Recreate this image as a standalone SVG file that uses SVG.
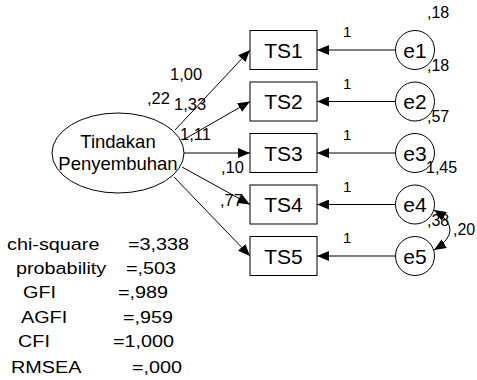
<svg xmlns="http://www.w3.org/2000/svg" width="477" height="380" viewBox="0 0 477 380">
<defs>
<marker id="ah" markerUnits="userSpaceOnUse" markerWidth="12" markerHeight="10" refX="12" refY="5" orient="auto-start-reverse" viewBox="0 0 12 10">
<path d="M0,0 L12,5 L0,10 z" fill="#000"/>
</marker>
<style>
text{font-family:"Liberation Sans",Arial,sans-serif;fill:#000}
.box{fill:#fff;stroke:#000;stroke-width:1}
.circ{fill:#fff;stroke:#000;stroke-width:1}
.big{font-size:21px;text-anchor:middle}
.lat{font-size:18.5px;text-anchor:middle}
.coef{font-size:16.5px}
.one{font-size:15px}
.var{font-size:16px}
.stat{font-size:16.5px}
.con line,.con path{stroke:#000;stroke-width:1;fill:none;marker-end:url(#ah)}
</style>
</defs>
<rect width="477" height="380" fill="#fff"/>
<g class="con" id="connectors">
<line x1="175" y1="130" x2="250" y2="50"/>
<line x1="183" y1="140" x2="250" y2="101.5"/>
<line x1="184" y1="153" x2="250" y2="153"/>
<line x1="182" y1="167" x2="250" y2="204.5"/>
<line x1="174" y1="177" x2="250" y2="256"/>
<line x1="395.5" y1="50" x2="317" y2="50"/>
<line x1="395.5" y1="101.5" x2="317" y2="101.5"/>
<line x1="395.5" y1="153" x2="317" y2="153"/>
<line x1="395.5" y1="204.5" x2="317" y2="204.5"/>
<line x1="395.5" y1="256" x2="317" y2="256"/>
<path d="M434,210 Q466,230 434,250" style="marker-start:url(#ah)"/>
</g>
<g id="latent">
<ellipse cx="118" cy="153" rx="66" ry="40" class="circ"/>
<text class="lat" x="118" y="148">Tindakan</text>
<text class="lat" x="118" y="170">Penyembuhan</text>
</g>
<g id="TS1"><rect class="box" x="250" y="30.5" width="67" height="39"/><text class="big" x="283.5" y="57.5">TS1</text></g>
<g id="TS2"><rect class="box" x="250" y="82" width="67" height="39"/><text class="big" x="283.5" y="109">TS2</text></g>
<g id="TS3"><rect class="box" x="250" y="133.5" width="67" height="39"/><text class="big" x="283.5" y="160.5">TS3</text></g>
<g id="TS4"><rect class="box" x="250" y="185" width="67" height="39"/><text class="big" x="283.5" y="212">TS4</text></g>
<g id="TS5"><rect class="box" x="250" y="236.5" width="67" height="39"/><text class="big" x="283.5" y="263.5">TS5</text></g>
<g id="e1"><circle class="circ" cx="415" cy="50" r="19.5"/><text class="big" x="415" y="57.5">e1</text></g>
<g id="e2"><circle class="circ" cx="415" cy="101.5" r="19.5"/><text class="big" x="415" y="109">e2</text></g>
<g id="e3"><circle class="circ" cx="415" cy="153" r="19.5"/><text class="big" x="415" y="160.5">e3</text></g>
<g id="e4"><circle class="circ" cx="415" cy="204.5" r="19.5"/><text class="big" x="415" y="212">e4</text></g>
<g id="e5"><circle class="circ" cx="415" cy="256" r="19.5"/><text class="big" x="415" y="263.5">e5</text></g>
<g id="labels">
<text class="coef" x="170" y="80">1,00</text>
<text class="coef" x="147" y="104">,22</text>
<text class="coef" x="174" y="110">1,33</text>
<text class="coef" x="180" y="140">1,11</text>
<text class="coef" x="221" y="173">,10</text>
<text class="coef" x="220" y="206">,77</text>
<text class="one" x="343" y="37">1</text>
<text class="one" x="343" y="89">1</text>
<text class="one" x="343" y="140">1</text>
<text class="one" x="343" y="192">1</text>
<text class="one" x="343" y="243">1</text>
<text class="var" x="427" y="18">,18</text>
<text class="var" x="427" y="71">,18</text>
<text class="var" x="427" y="122">,57</text>
<text class="var" x="426" y="173">1,45</text>
<text class="var" x="427" y="226">,38</text>
<text class="var" x="453" y="235">,20</text>
</g>
<g id="stats" class="stat">
<text class="stat" transform="translate(7,250) scale(1.2,1)">chi-square</text>
<text class="stat" transform="translate(128,250) scale(1.2,1)">=3,338</text>
<text class="stat" transform="translate(16,274) scale(1.2,1)">probability</text>
<text class="stat" transform="translate(126,274) scale(1.2,1)">=,503</text>
<text class="stat" transform="translate(23,298) scale(1.2,1)">GFI</text>
<text class="stat" transform="translate(118,298) scale(1.2,1)">=,989</text>
<text class="stat" transform="translate(21,323) scale(1.2,1)">AGFI</text>
<text class="stat" transform="translate(123,323) scale(1.2,1)">=,959</text>
<text class="stat" transform="translate(18,347) scale(1.2,1)">CFI</text>
<text class="stat" transform="translate(113,347) scale(1.2,1)">=1,000</text>
<text class="stat" transform="translate(11,373) scale(1.2,1)">RMSEA</text>
<text class="stat" transform="translate(132,373) scale(1.2,1)">=,000</text>
</g>
</svg>
